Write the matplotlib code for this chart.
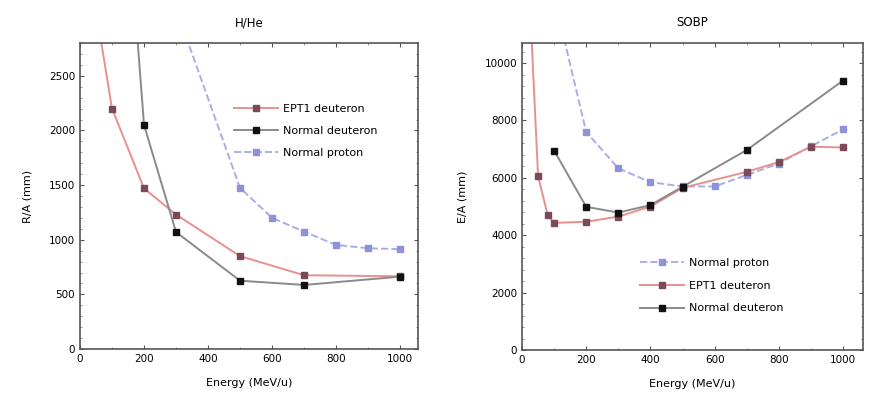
import matplotlib
matplotlib.use("Agg")
import matplotlib.pyplot as plt
from matplotlib.ticker import AutoMinorLocator

# ---- data ----
# Left panel
L_ept1_x = [50, 100, 200, 300, 500, 700, 1000]
L_ept1_y = [3100, 2200, 1470, 1230, 850, 675, 665]
L_ndeut_x = [170, 200, 300, 500, 700, 1000]
L_ndeut_y = [3200, 2050, 1070, 625, 586, 662]
L_nprot_x = [320, 500, 600, 700, 800, 900, 1000]
L_nprot_y = [2950, 1474, 1200, 1074, 952, 922, 913]

# Right panel
R_nprot_x = [100, 200, 300, 400, 500, 600, 700, 800, 900, 1000]
R_nprot_y = [12300, 7600, 6330, 5850, 5700, 5700, 6100, 6500, 7100, 7690]
R_ept1_x = [25, 50, 80, 100, 200, 300, 400, 500, 700, 800, 900, 1000]
R_ept1_y = [12000, 6060, 4700, 4430, 4470, 4650, 5000, 5650, 6210, 6550, 7085, 7060]
R_ndeut_x = [100, 200, 300, 400, 500, 700, 1000]
R_ndeut_y = [6950, 4990, 4790, 5050, 5690, 6970, 9390]

titles = ["H/He", "SOBP"]
ylabels = ["R/A (mm)", "E/A (mm)"]
xlabel = "Energy (MeV/u)"
lab_ept1 = "EPT1 deuteron"
lab_ndeut = "Normal deuteron"
lab_nprot = "Normal proton"

# ---- styles ----
ept_line = "#e89090"
ept_mk = "#7a4a58"
nd_line = "#8a8a8a"
nd_mk = "#111111"
np_line = "#a9aee6"
np_mk = "#8f92d4"

fig = plt.figure(figsize=(8.69, 4.01), dpi=100)
axL = fig.add_axes([80/869, 1-349/401, 338/869, 306/401])
axR = fig.add_axes([522/869, 1-350/401, 341/869, 307/401])

def style(ax):
    ax.tick_params(direction="in", top=True, right=True, labelsize=7.5,
                   color="#555555", length=3)
    ax.tick_params(which="minor", direction="in", top=True, right=True,
                   length=1.5, color="#777777")
    ax.xaxis.set_minor_locator(AutoMinorLocator(2))
    ax.yaxis.set_minor_locator(AutoMinorLocator(5))
    for s in ax.spines.values():
        s.set_color("#555555")
        s.set_linewidth(1.2)

leg_kw = dict(frameon=False, fontsize=8, handlelength=4, borderpad=0,
              borderaxespad=0, handletextpad=0.4)

# Left
axL.plot(L_ept1_x, L_ept1_y, "-", color=ept_line, lw=1.4, marker="s", ms=4,
         mfc=ept_mk, mec=ept_mk, label=lab_ept1)
axL.plot(L_ndeut_x, L_ndeut_y, "-", color=nd_line, lw=1.4, marker="s", ms=4,
         mfc=nd_mk, mec=nd_mk, label=lab_ndeut)
axL.plot(L_nprot_x, L_nprot_y, "--", color=np_line, lw=1.4, marker="s", ms=4,
         mfc=np_mk, mec=np_mk, label=lab_nprot)
axL.set_xlim(0, 1056)
axL.set_ylim(0, 2800)
axL.set_xticks([0, 200, 400, 600, 800, 1000])
axL.set_yticks([0, 500, 1000, 1500, 2000, 2500])
style(axL)
axL.set_title(titles[0], fontsize=8.5, pad=12)
axL.set_xlabel(xlabel, fontsize=8, labelpad=10)
axL.set_ylabel(ylabels[0], fontsize=8, labelpad=12)
axL.legend(loc="upper left", bbox_to_anchor=(0.455, 0.80),
           labelspacing=1.05, **leg_kw)

# Right
axR.plot(R_nprot_x, R_nprot_y, "--", color=np_line, lw=1.4, marker="s", ms=4,
         mfc=np_mk, mec=np_mk, label=lab_nprot)
axR.plot(R_ept1_x, R_ept1_y, "-", color=ept_line, lw=1.4, marker="s", ms=4,
         mfc=ept_mk, mec=ept_mk, label=lab_ept1)
axR.plot(R_ndeut_x, R_ndeut_y, "-", color=nd_line, lw=1.4, marker="s", ms=4,
         mfc=nd_mk, mec=nd_mk, label=lab_ndeut)
axR.set_xlim(0, 1062)
axR.set_ylim(0, 10700)
axR.set_xticks([0, 200, 400, 600, 800, 1000])
axR.set_yticks([0, 2000, 4000, 6000, 8000, 10000])
style(axR)
axR.set_title(titles[1], fontsize=8.5, pad=12)
axR.set_xlabel(xlabel, fontsize=8, labelpad=10)
axR.set_ylabel(ylabels[1], fontsize=8, labelpad=12)
axR.legend(loc="upper left", bbox_to_anchor=(0.345, 0.30),
           labelspacing=1.15, **leg_kw)

fig.savefig("out.png", dpi=100)
